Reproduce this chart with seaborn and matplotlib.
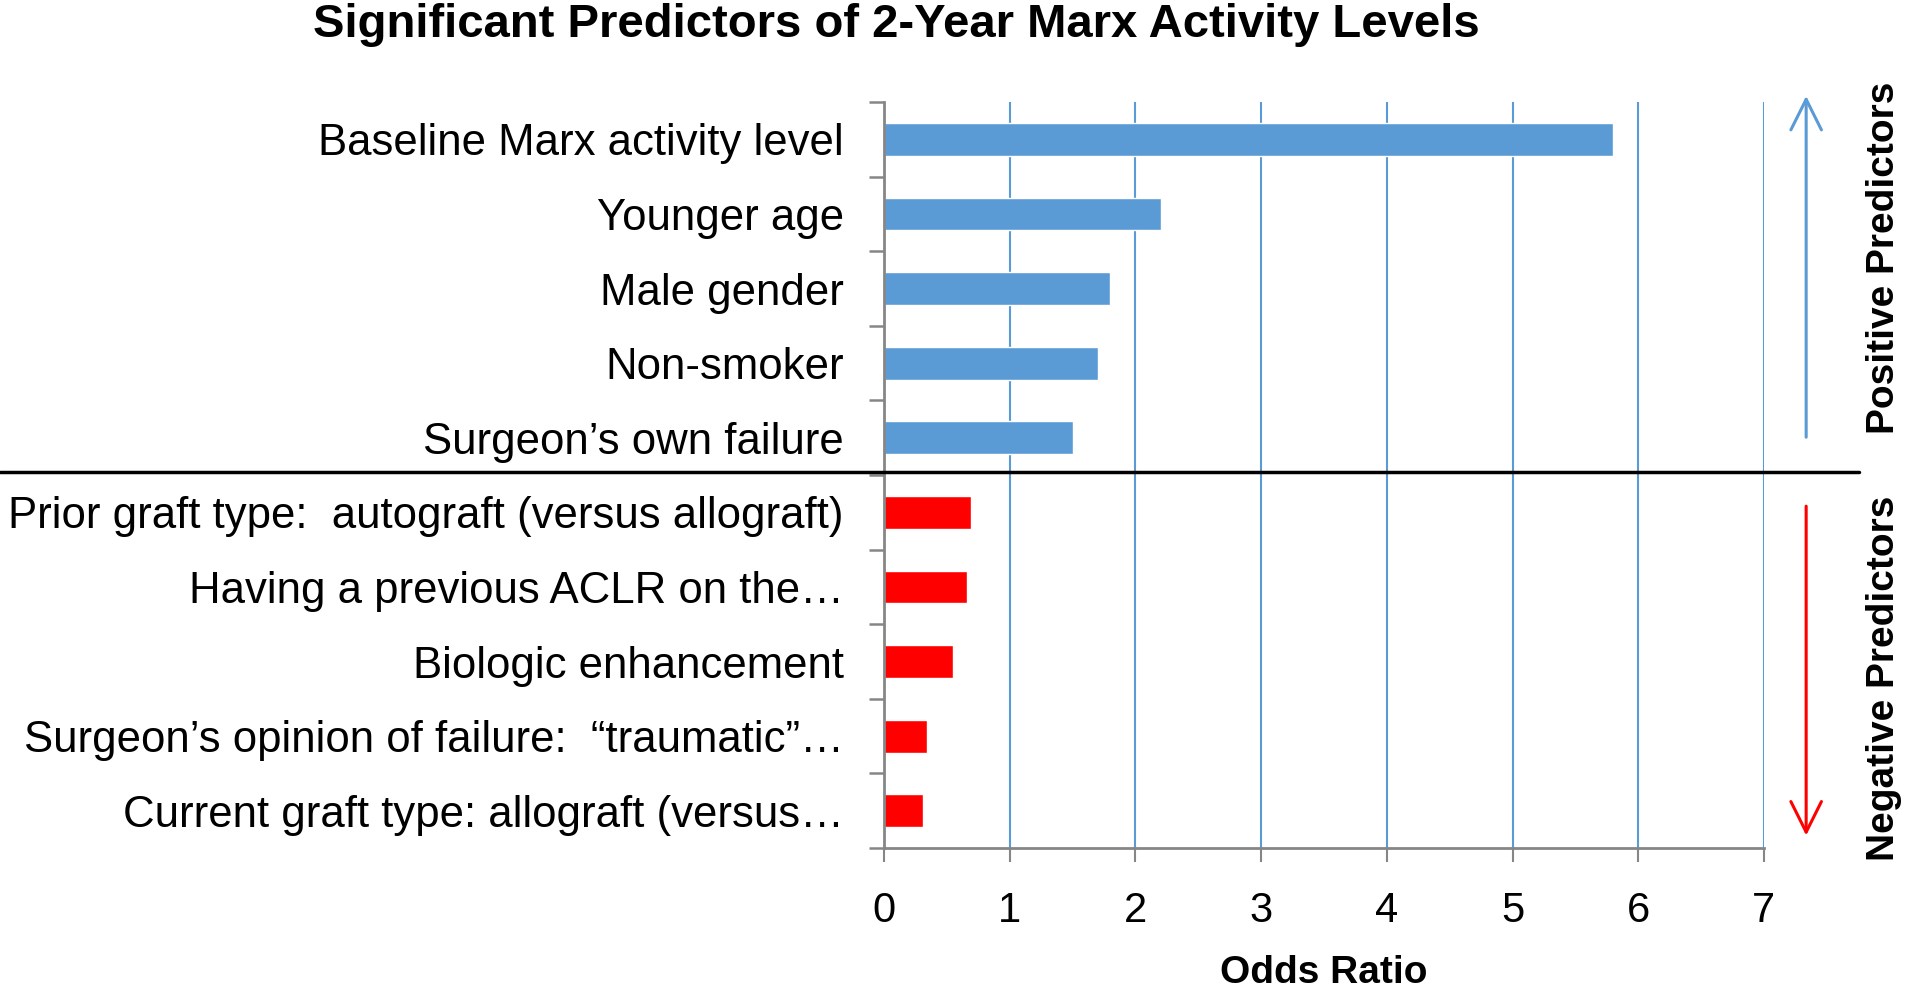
import pandas as pd
import matplotlib.pyplot as plt
import matplotlib.transforms as mtransforms
from matplotlib.lines import Line2D
import seaborn as sns

# data
predictors = [
    "Baseline Marx activity level",
    "Younger age",
    "Male gender",
    "Non-smoker",
    "Surgeon\u2019s own failure",
    "Prior graft type:  autograft (versus allograft)",
    "Having a previous ACLR on the\u2026",
    "Biologic enhancement",
    "Surgeon\u2019s opinion of failure:  \u201ctraumatic\u201d\u2026",
    "Current graft type: allograft (versus\u2026",
]
odds_ratio = [5.8, 2.2, 1.8, 1.7, 1.5, 0.69, 0.66, 0.55, 0.34, 0.31]
direction = ["Positive"] * 5 + ["Negative"] * 5
colors = {"Positive": "#5B9BD5", "Negative": "#FF0000"}

df = pd.DataFrame({"Predictor": predictors, "OR": odds_ratio, "Dir": direction})

sns.set_style("white")
plt.rcParams["font.family"] = ["Liberation Sans", "DejaVu Sans"]
plt.rcParams["text.color"] = "black"

fig = plt.figure(figsize=(19.24, 9.91), dpi=100)
ax = fig.add_axes([0.4595, 0.1443, 0.9168 - 0.4595, 0.897 - 0.1443])

sns.barplot(data=df, x="OR", y="Predictor", hue="Dir", palette=colors,
            orient="h", width=0.44, legend=False, ax=ax, saturation=1)

ax.set_xlim(0, 7)
ax.set_ylim(len(predictors) - 0.5, -0.5)
ax.set_xticks(range(0, 8))
ax.grid(axis="x", color="#5B9BD5", linewidth=1.5)
ax.grid(axis="y", visible=False)
ax.set_axisbelow(True)

for s in ["top", "right"]:
    ax.spines[s].set_visible(False)
for s in ["left", "bottom"]:
    ax.spines[s].set_color("#868686")
    ax.spines[s].set_linewidth(2)

# category boundary ticks, Excel style
ax.set_yticks([i - 0.5 for i in range(len(predictors) + 1)], minor=True)
ax.tick_params(axis="y", which="minor", length=11, width=1.8, color="#868686", left=True)
ax.tick_params(axis="y", which="major", length=0, pad=29, labelsize=31.5, labelcolor="black")
ax.tick_params(axis="x", which="major", length=10, width=1.5, color="#868686",
               bottom=True, pad=21, labelsize=30, labelcolor="black")
ax.set_xlabel("")
ax.set_ylabel("")

# divider between positive and negative predictors
trans = mtransforms.blended_transform_factory(fig.transFigure, ax.transData)
fig.add_artist(Line2D([0, 0.966], [4.46, 4.46], transform=trans, color="black", linewidth=2.5))

# direction arrows
ax.annotate("", xy=(1.048, 1.012), xytext=(1.048, 0.547), xycoords="axes fraction",
            arrowprops=dict(arrowstyle="->", color="#5B9BD5", lw=2.2,
                            mutation_scale=55), annotation_clip=False)
ax.annotate("", xy=(1.048, 0.013), xytext=(1.048, 0.462), xycoords="axes fraction",
            arrowprops=dict(arrowstyle="->", color="#FF0000", lw=2.2,
                            mutation_scale=55), annotation_clip=False)

fig.text(0.979, 1 - 258 / 991, "Positive Predictors", rotation=90, ha="center",
         va="center", fontsize=28, fontweight="bold")
fig.text(0.979, 1 - 678 / 991, "Negative Predictors", rotation=90, ha="center",
         va="center", fontsize=28, fontweight="bold")

fig.text(896 / 1924, 1 - 25 / 991, "Significant Predictors of 2-Year Marx Activity Levels",
         ha="center", va="center", fontsize=34, fontweight="bold")
fig.text(1324 / 1924, 1 - 955 / 991, "Odds Ratio", ha="center", va="top",
         fontsize=28, fontweight="bold")

plt.savefig("out.png", dpi=100)
